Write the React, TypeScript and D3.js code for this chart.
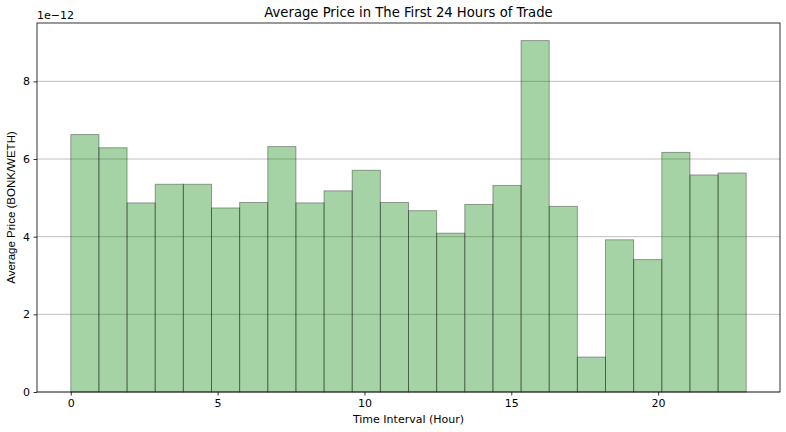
import * as d3 from 'd3'
import * as React from 'react'

//------------------------------data------------------------------
const HOURS = d3.range(24)
const AVG_PRICE = [
  6.63, 6.29, 4.87, 5.35, 5.35, 4.74, 4.88, 6.32, 4.87, 5.18, 5.71, 4.88,
  4.67, 4.09, 4.83, 5.32, 9.05, 4.78, 0.9, 3.92, 3.41, 6.17, 5.59, 5.64
]
const X_TICKS = [0, 5, 10, 15, 20]
const Y_TICKS = [0, 2, 4, 6, 8]

const WIDTH = 786
const HEIGHT = 432
const MARGIN = { top: 23, right: 6, bottom: 40, left: 37 }
const FONT = 'DejaVu Sans, sans-serif'

//------------------------------drawChart------------------------------
const drawChart = (svgRef: React.RefObject<SVGSVGElement | null>) => {
  const svg = d3.select(svgRef.current)
  svg.selectAll('*').remove()

  const innerW = WIDTH - MARGIN.left - MARGIN.right
  const innerH = HEIGHT - MARGIN.top - MARGIN.bottom
  const binW = 23 / 24
  const yMax = d3.max(AVG_PRICE) as number

  const x = d3.scaleLinear().domain([-1.15, 24.15]).range([0, innerW])
  const y = d3.scaleLinear().domain([0, yMax * 1.05]).range([innerH, 0])

  const g = svg
    .append('g')
    .attr('transform', `translate(${MARGIN.left},${MARGIN.top})`)

  // grid
  g.append('g')
    .selectAll('line')
    .data(Y_TICKS)
    .join('line')
    .attr('x1', 0)
    .attr('x2', innerW)
    .attr('y1', d => y(d))
    .attr('y2', d => y(d))
    .attr('stroke', '#b0b0b0')
    .attr('stroke-width', 0.8)

  // bars
  g.append('g')
    .selectAll('rect')
    .data(HOURS)
    .join('rect')
    .attr('x', d => x(d * binW))
    .attr('width', x(binW) - x(0))
    .attr('y', d => y(AVG_PRICE[d]))
    .attr('height', d => y(0) - y(AVG_PRICE[d]))
    .attr('fill', 'rgba(0,128,0,0.35)')
    .attr('stroke', 'rgba(0,0,0,0.35)')
    .attr('stroke-width', 1)

  // axes
  const xAxis = g
    .append('g')
    .attr('transform', `translate(0,${innerH})`)
    .call(
      d3
        .axisBottom(x)
        .tickValues(X_TICKS)
        .tickSize(3.5)
        .tickPadding(3.5)
        .tickFormat(d3.format('d'))
    )
  const yAxis = g.append('g').call(
    d3
      .axisLeft(y)
      .tickValues(Y_TICKS)
      .tickSize(3.5)
      .tickPadding(3.5)
      .tickFormat(d3.format('d'))
  )
  ;[xAxis, yAxis].forEach(a => {
    a.select('.domain').remove()
    a.selectAll('line').attr('stroke', '#000').attr('stroke-width', 0.8)
    a.selectAll('text')
      .attr('font-family', FONT)
      .attr('font-size', 11)
      .attr('fill', '#000')
  })

  // frame
  g.append('rect')
    .attr('width', innerW)
    .attr('height', innerH)
    .attr('fill', 'none')
    .attr('stroke', '#000')
    .attr('stroke-width', 0.8)

  // texts
  svg
    .append('text')
    .attr('x', MARGIN.left + innerW / 2)
    .attr('y', 17)
    .attr('text-anchor', 'middle')
    .attr('font-family', FONT)
    .attr('font-size', 13.2)
    .text('Average Price in The First 24 Hours of Trade')

  svg
    .append('text')
    .attr('x', MARGIN.left)
    .attr('y', 19)
    .attr('font-family', FONT)
    .attr('font-size', 11)
    .text('1e\u221212')

  svg
    .append('text')
    .attr('x', MARGIN.left + innerW / 2)
    .attr('y', HEIGHT - 9)
    .attr('text-anchor', 'middle')
    .attr('font-family', FONT)
    .attr('font-size', 11)
    .text('Time Interval (Hour)')

  svg
    .append('text')
    .attr('transform', `translate(15,${MARGIN.top + innerH / 2}) rotate(-90)`)
    .attr('text-anchor', 'middle')
    .attr('font-family', 'Liberation Sans, Arial, sans-serif')
    .attr('font-size', 11.5)
    .text('Average Price (BONK/WETH)')
}

//------------------------------Component------------------------------
export default function App() {
  const svgRef = React.useRef<SVGSVGElement>(null)

  React.useEffect(() => {
    document.body.style.margin = '0'
    drawChart(svgRef)
  }, [])

  return (
    <svg
      ref={svgRef}
      width={WIDTH}
      height={HEIGHT}
      style={{ display: 'block', background: '#fff' }}
    />
  )
}
